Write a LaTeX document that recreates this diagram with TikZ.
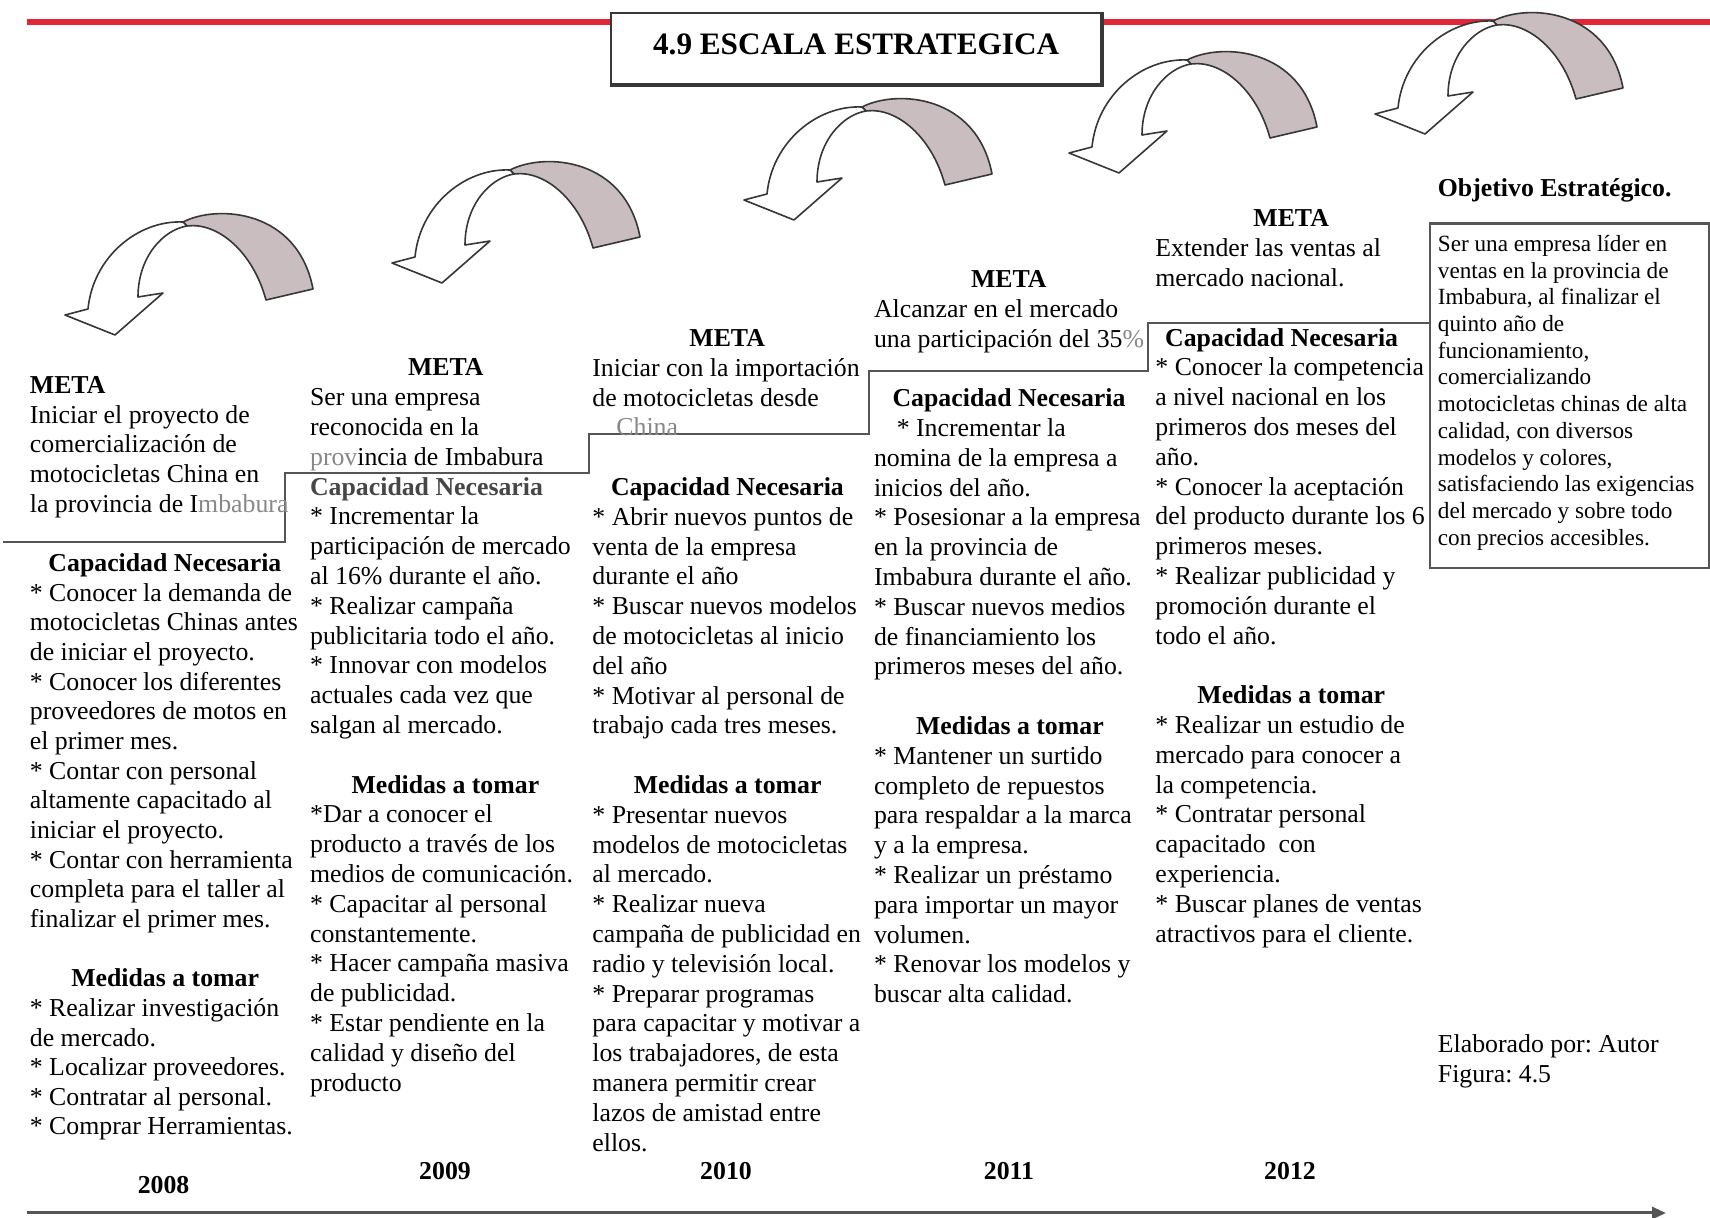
\documentclass[tikz,border=0pt]{standalone}
\usepackage{fontspec}
\setmainfont{Liberation Serif}
\usetikzlibrary{arrows.meta}
\frenchspacing

\definecolor{redline}{RGB}{226,38,56}
\definecolor{bandgray}{RGB}{201,189,192}
\definecolor{inkgray}{RGB}{55,55,55}
\definecolor{stepgray}{RGB}{85,85,85}
\definecolor{fadedtext}{RGB}{135,135,135}
\definecolor{headgray}{RGB}{70,70,70}

\tikzset{
  coltext/.style={anchor=base west, inner sep=0pt, font=\fontsize{12.9pt}{14.9pt}\selectfont},
  boxtext/.style={anchor=base west, inner sep=0pt, font=\fontsize{11.6pt}{13.35pt}\selectfont},
  yearlabel/.style={anchor=base, inner sep=0pt, font=\fontsize{12.9pt}{14.9pt}\selectfont\bfseries},
  stepline/.style={draw=stepgray, line width=1pt, line join=miter},
  timeline/.style={draw=stepgray, line width=1.5pt, -{Triangle[length=7pt,width=6pt]}},
  curvearrow/.pic={
    % shaded back of the ribbon
    \filldraw[fill=bandgray, draw=inkgray, line width=0.8pt, line join=round]
      (0,0) .. controls (35,-18) and (115,-12) .. (130,67)
      -- (83,78) .. controls (70,30) and (35,0) .. (4,4) -- cycle;
    % white front of the ribbon with its head
    \filldraw[fill=white, draw=inkgray, line width=0.8pt, line join=round]
      (0,0) .. controls (-45,-2) and (-90,35) .. (-95,87)
      -- (-118,93) -- (-68,113) -- (-20,71) -- (-45,75)
      .. controls (-45,35) and (-20,8) .. (4,4) -- cycle;
  }
}
% bullet asterisk that survives a preceding line break
\newcommand\itm{{*}}

\begin{document}
\begin{tikzpicture}[x=0.5pt, y=-0.5pt]
\useasboundingbox (0,0) rectangle (1710,1218);

% red rule across the top
\coordinate (ruleL) at (27,22);
\coordinate (ruleR) at (1710,22);
\draw[redline, line width=2.6pt] (ruleL) -- (ruleR);

% title
\node[draw=inkgray, fill=white, line width=1.1pt, minimum width=245.4pt, minimum height=35.5pt, inner sep=0pt] (titlebox) at (856.1,48.5) {};
\draw[inkgray, line width=1.8pt] (titlebox.south west) -- (titlebox.south east) -- (titlebox.north east);
\node[anchor=base, inner sep=0pt, font=\fontsize{15.6pt}{18pt}\selectfont\bfseries] (title) at (856.1,55) {4.9 ESCALA ESTRATEGICA};

% curved arrows
\pic (arrowA) at (183,222) {curvearrow};
\pic (arrowB) at (510,170) {curvearrow};
\pic (arrowC) at (862,107) {curvearrow};
\pic (arrowD) at (1187,60) {curvearrow};
\pic (arrowE) at (1493,21) {curvearrow};

% objective box
\node[draw=stepgray, line width=1.2pt, anchor=north west, minimum width=139.5pt, minimum height=172.25pt, inner sep=0pt] (objbox) at (1429,222.5) {};

% staircase
\draw[stepline] (3,542) -- (284.6,542) -- (284.6,473) -- (589,473) -- (589,434)
  -- (869,434) -- (869,371) -- (1148,371) -- (1148,323) -- (objbox.west |- 0,323);

% 2008
\node[coltext, font=\fontsize{12.9pt}{14.83pt}\selectfont] (col2008) at (29.5,393.5) {\parbox[t]{170pt}{%
\textbf{META}\\
Iniciar el proyecto de\\
comercialización de\\
motocicletas China en\\
la provincia de I{\color{fadedtext}mbabura}\\[14.83pt]
\hspace*{9.3pt}\textbf{Capacidad Necesaria}\\
\itm\ Conocer la demanda de\\
motocicletas Chinas antes\\
de iniciar el proyecto.\\
\itm\ Conocer los diferentes\\
proveedores de motos en\\
el primer mes.\\
\itm\ Contar con personal\\
altamente capacitado al\\
iniciar el proyecto.\\
\itm\ Contar con herramienta\\
completa para el taller al\\
finalizar el primer mes.\\[14.83pt]
\hspace*{20.7pt}\textbf{Medidas a tomar}\\
\itm\ Realizar investigación\\
de mercado.\\
\itm\ Localizar proveedores.\\
\itm\ Contratar al personal.\\
\itm\ Comprar Herramientas.}};

% 2009
\node[coltext] (col2009) at (309.7,376) {\parbox[t]{170pt}{%
\hspace*{49pt}\textbf{META}\\
Ser una empresa\\
reconocida en la\\
{\color{fadedtext}prov}incia de Imbabura\\
{\color{headgray}\textbf{Capacidad Necesaria}}\\
\itm\ Incrementar la\\
participación de mercado\\
al 16\% durante el año.\\
\itm\ Realizar campaña\\
publicitaria todo el año.\\
\itm\ Innovar con modelos\\
actuales cada vez que\\
salgan al mercado.\\[14.9pt]
\hspace*{20.7pt}\textbf{Medidas a tomar}\\
\itm Dar a conocer el\\
producto a través de los\\
medios de comunicación.\\
\itm\ Capacitar al personal\\
constantemente.\\
\itm\ Hacer campaña masiva\\
de publicidad.\\
\itm\ Estar pendiente en la\\
calidad y diseño del\\
producto}};

% 2010
\node[coltext] (col2010) at (592,346.5) {\parbox[t]{170pt}{%
\hspace*{48.5pt}\textbf{META}\\
Iniciar con la importación\\
de motocicletas desde\\
\hspace*{12pt}{\color{fadedtext}China}\\[14.9pt]
\hspace*{9.3pt}\textbf{Capacidad Necesaria}\\
\itm\ Abrir nuevos puntos de\\
venta de la empresa\\
durante el año\\
\itm\ Buscar nuevos modelos\\
de motocicletas al inicio\\
del año\\
\itm\ Motivar al personal de\\
trabajo cada tres meses.\\[14.9pt]
\hspace*{20.7pt}\textbf{Medidas a tomar}\\
\itm\ Presentar nuevos\\
modelos de motocicletas\\
al mercado.\\
\itm\ Realizar nueva\\
campaña de publicidad en\\
radio y televisión local.\\
\itm\ Preparar programas\\
para capacitar y motivar a\\
los trabajadores, de esta\\
manera permitir crear\\
lazos de amistad entre\\
ellos.}};

% 2011
\node[coltext] (col2011) at (873.6,287.5) {\parbox[t]{170pt}{%
\hspace*{48.5pt}\textbf{META}\\
Alcanzar en el mercado\\
una participación del 35{\color{fadedtext}\%}\\[14.9pt]
\hspace*{9.3pt}\textbf{Capacidad Necesaria}\\
\hspace*{11.4pt}\itm\ Incrementar la\\
nomina de la empresa a\\
inicios del año.\\
\itm\ Posesionar a la empresa\\
en la provincia de\\
Imbabura durante el año.\\
\itm\ Buscar nuevos medios\\
de financiamiento los\\
primeros meses del año.\\[14.9pt]
\hspace*{21pt}\textbf{Medidas a tomar}\\
\itm\ Mantener un surtido\\
completo de repuestos\\
para respaldar a la marca\\
y a la empresa.\\
\itm\ Realizar un préstamo\\
para importar un mayor\\
volumen.\\
\itm\ Renovar los modelos y\\
buscar alta calidad.}};

% 2012
\node[coltext] (col2012) at (1155,227) {\parbox[t]{170pt}{%
\hspace*{49pt}\textbf{META}\\
Extender las ventas al\\
mercado nacional.\\[14.9pt]
\hspace*{4.9pt}\textbf{Capacidad Necesaria}\\
\itm\ Conocer la competencia\\
a nivel nacional en los\\
primeros dos meses del\\
año.\\
\itm\ Conocer la aceptación\\
del producto durante los 6\\
primeros meses.\\
\itm\ Realizar publicidad y\\
promoción durante el\\
todo el año.\\[14.9pt]
\hspace*{21pt}\textbf{Medidas a tomar}\\
\itm\ Realizar un estudio de\\
mercado para conocer a\\
la competencia.\\
\itm\ Contratar personal\\
capacitado\ \ con\\
experiencia.\\
\itm\ Buscar planes de ventas\\
atractivos para el cliente.}};

% strategic objective
\node[coltext] (objhead) at (1437.5,197) {\textbf{Objetivo Estratégico.}};
\node[boxtext] (objtext) at (1437.5,251.5) {\parbox[t]{150pt}{%
Ser una empresa líder en\\
ventas en la provincia de\\
Imbabura, al finalizar el\\
quinto año de\\
funcionamiento,\\
comercializando\\
motocicletas chinas de alta\\
calidad, con diversos\\
modelos y colores,\\
satisfaciendo las exigencias\\
del mercado y sobre todo\\
con precios accesibles.}};

\node[coltext] (credit) at (1437.5,1053) {\parbox[t]{150pt}{%
Elaborado por: Autor\\
Figura: 4.5}};

% years and time axis
\node[yearlabel] (y2008) at (163.6,1194) {2008};
\node[yearlabel] (y2009) at (445,1180) {2009};
\node[yearlabel] (y2010) at (726,1180) {2010};
\node[yearlabel] (y2011) at (1009,1180) {2011};
\node[yearlabel] (y2012) at (1290,1180) {2012};

\coordinate (axisL) at (27,1213);
\coordinate (axisR) at (1666,1213);
\draw[timeline] (axisL) -- (axisR);
\end{tikzpicture}
\end{document}
